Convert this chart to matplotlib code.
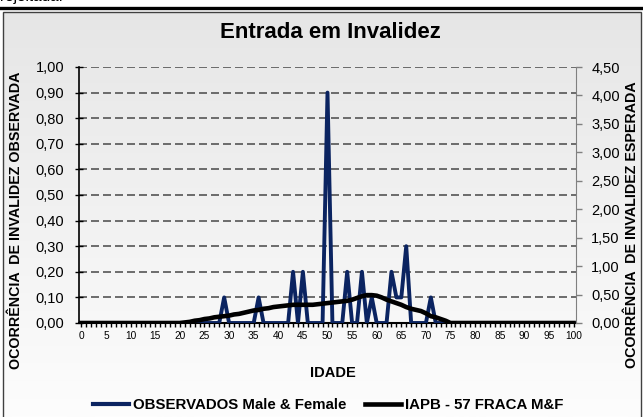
"""Entrada em Invalidez - observed vs expected disability entries by age."""
import matplotlib

matplotlib.use("Agg")
import matplotlib.pyplot as plt  # noqa
import matplotlib.ticker as mticker  # noqa
from matplotlib.colors import LinearSegmentedColormap  # noqa
from matplotlib.lines import Line2D  # noqa
from matplotlib.patches import Rectangle  # noqa
import numpy as np

plt.rcParams["font.family"] = ["Liberation Sans", "DejaVu Sans"]

AGES = list(range(0, 101))

# observed (left axis), non-zero ages only
OBS_PEAKS = {29: 0.10, 36: 0.10, 43: 0.20, 45: 0.20, 50: 0.90, 54: 0.20,
             57: 0.20, 59: 0.10, 63: 0.20, 64: 0.10, 65: 0.10, 66: 0.30, 71: 0.10}
observados = [OBS_PEAKS.get(a, 0.0) for a in AGES]

# expected IAPB-57 (right axis), ages 21..74, zero elsewhere
EXP_VALUES = [0.01, 0.02, 0.04, 0.05, 0.07, 0.08, 0.10, 0.11, 0.12, 0.13,
              0.15, 0.16, 0.18, 0.20, 0.22, 0.23, 0.25, 0.26, 0.28, 0.29,
              0.30, 0.31, 0.32, 0.32, 0.32, 0.32, 0.32, 0.33, 0.34, 0.35,
              0.36, 0.37, 0.38, 0.39, 0.41, 0.44, 0.47, 0.49, 0.49, 0.48,
              0.45, 0.41, 0.38, 0.35, 0.32, 0.28, 0.25, 0.23, 0.21, 0.17,
              0.12, 0.10, 0.07, 0.04]
esperados = [0.0] * 21 + EXP_VALUES + [0.0] * (101 - 21 - len(EXP_VALUES))

LEFT_TICKS = [i / 10 for i in range(11)]
RIGHT_TICKS = [i / 2 for i in range(10)]

W, H = 643, 417
fig = plt.figure(figsize=(W / 100, H / 100), dpi=100)
fig.patch.set_facecolor("white")

# chart area background gradient + border
bg = fig.add_axes([3 / W, 0, 638 / W, 1 - 12 / H], zorder=-5)
grad = np.linspace(0, 1, 256).reshape(-1, 1)
cmap = LinearSegmentedColormap.from_list("bg", ["#e6e6e6", "#fdfdfd"])
bg.imshow(grad, aspect="auto", cmap=cmap, extent=[0, 1, 0, 1])
bg.set_axis_off()
fig.add_artist(Rectangle((3 / W, -0.01), 638 / W, 1 - 12 / H + 0.01,
                         transform=fig.transFigure, fill=False,
                         edgecolor="#404040", lw=1.0))
fig.add_artist(Line2D([0, 1], [1 - 7.5 / H, 1 - 7.5 / H], transform=fig.transFigure,
                      color="black", lw=2.4))
fig.text(0.0, 1 - 1.5 / H, "rejeitada.", fontsize=11, va="baseline", ha="left")

ax = fig.add_axes([79 / W, 1 - 323 / H, (576 - 79) / W, (323 - 67) / H])
ax.set_facecolor("none")
ax2 = ax.twinx()

ax.set_xlim(-0.5, 100.5)
ax.set_ylim(0, 1.0)
ax2.set_ylim(0, 4.5)

for y in LEFT_TICKS[1:]:
    ax.axhline(y, color="#555555", lw=1.2, dashes=(4.8, 2.4), zorder=1)

ax.plot(AGES, observados, color="#0b2461", lw=2.8, zorder=3)
ax2.plot(AGES, esperados, color="black", lw=3.3, zorder=4)

comma = mticker.FuncFormatter(lambda v, p: f"{v:.2f}".replace(".", ","))
ax.set_yticks(LEFT_TICKS)
ax.yaxis.set_major_formatter(comma)
ax2.set_yticks(RIGHT_TICKS)
ax2.yaxis.set_major_formatter(comma)

ax.set_xticks(range(0, 101, 5))
ax.set_xticks(range(0, 101), minor=True)
ax.tick_params(axis="x", which="major", direction="out", length=3, width=1,
               labelsize=7.3, pad=3)
ax.tick_params(axis="x", which="minor", direction="out", length=3, width=1)
ax.tick_params(axis="y", direction="inout", length=6, width=1, labelsize=10.5, pad=7.5)
ax2.tick_params(axis="y", direction="out", length=4, width=1, color="#808080",
                labelsize=10.5, pad=7)

ax.spines["top"].set_visible(False)
ax.spines["right"].set_visible(False)
for s in ["top", "left", "bottom"]:
    ax2.spines[s].set_visible(False)
ax2.spines["right"].set_color("#808080")
ax.spines["left"].set_linewidth(1.2)
ax.spines["bottom"].set_linewidth(1.5)

fig.text(330 / W, 1 - 32 / H, "Entrada em Invalidez", fontsize=16, fontweight="bold",
         ha="center", va="center")
fig.text(333 / W, 1 - 373 / H, "IDADE", fontsize=10.5, fontweight="bold",
         ha="center", va="center")
fig.text(16 / W, 1 - 220 / H, "OCORRÊNCIA  DE INVALIDEZ OBSERVADA", fontsize=10.3,
         fontweight="bold", rotation=90, ha="center", va="center")
fig.text(632 / W, 1 - 225 / H, "OCORRÊNCIA  DE INVALIDEZ ESPERADA", fontsize=10.3,
         fontweight="bold", rotation=90, ha="center", va="center")

handles = [Line2D([], [], color="#0b2461", lw=3.0),
           Line2D([], [], color="black", lw=3.3)]
fig.legend(handles, ["OBSERVADOS Male & Female", "IAPB - 57 FRACA M&F"],
           loc="center", bbox_to_anchor=(328 / W, 1 - 405 / H), ncol=2,
           frameon=False, handlelength=2.4, handletextpad=0.3, columnspacing=1.2,
           borderpad=0, prop={"weight": "bold", "size": 10.8})

fig.savefig("out.png", dpi=100)
